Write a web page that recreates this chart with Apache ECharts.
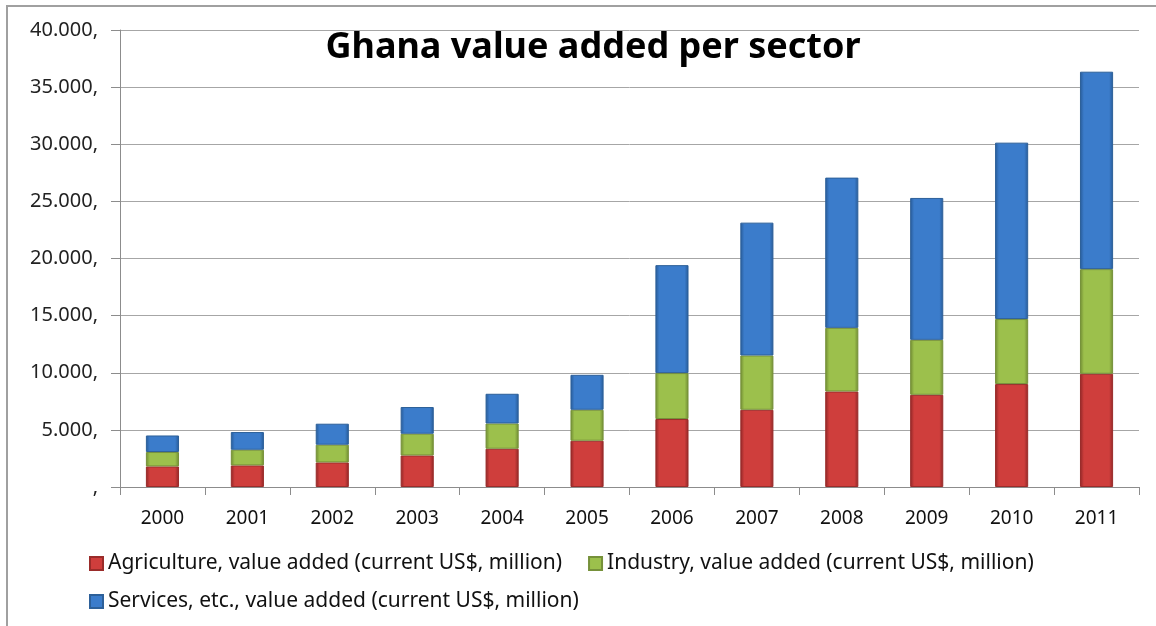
<!DOCTYPE html>
<html>
<head>
<meta charset="utf-8">
<script src="https://cdn.jsdelivr.net/npm/echarts@6/dist/echarts.min.js"></script>
<style>
    html, body { margin: 0; padding: 0; background: #fff; }
    #chart { width: 1156px; height: 626px; }
    .frame {
        position: absolute; left: 6px; top: 5px; width: 1150px; height: 621px;
        border-top: 2px solid #a0a0a0; border-left: 2px solid #a0a0a0;
        pointer-events: none;
    }
</style>
</head>
<body>
<div id="chart"></div>
<div class="frame"></div>
<script>
// years on the x axis
const years = ['2000', '2001', '2002', '2003', '2004', '2005', '2006', '2007', '2008', '2009', '2010', '2011'];
// value added, current US$ million
const agriculture = [1800, 1890, 2150, 2760, 3350, 4050, 5950, 6760, 8360, 8070, 9010, 9910];
const industry = [1260, 1370, 1550, 1900, 2210, 2710, 4020, 4750, 5570, 4810, 5690, 9160];
const services = [1450, 1550, 1840, 2340, 2600, 3060, 9450, 11630, 13150, 12420, 15440, 17280];
const seriesNames = [
    'Agriculture, value added (current US$, million)',
    'Industry, value added (current US$, million)',
    'Services, etc., value added (current US$, million)'
];

const font = '"Noto Sans", "Open Sans", sans-serif';

// bevel-ish look: dark edges, light middle
function bevel(edge, mid) {
    return {
        type: 'linear', x: 0, y: 0, x2: 1, y2: 0,
        colorStops: [
            { offset: 0, color: edge },
            { offset: 0.12, color: mid },
            { offset: 0.88, color: mid },
            { offset: 1, color: edge }
        ]
    };
}

const styles = [
    { color: bevel('#8e2626', '#cf3e3c'), borderColor: '#9a2c2a' },
    { color: bevel('#6f8a32', '#9cc04c'), borderColor: '#76913a' },
    { color: bevel('#275a96', '#3b7ccb'), borderColor: '#2d6099' }
];
const legendColors = ['#c0392f', '#8db042', '#3573c0'];

let myChart = echarts.init(document.getElementById('chart'));
myChart.setOption({
    animation: false,
    title: {
        text: 'Ghana value added per sector',
        left: 588,
        top: 25,
        textAlign: 'center',
        textStyle: { fontFamily: font, fontWeight: 'bold', fontSize: 36, color: '#000' }
    },
    legend: [
        {
            data: seriesNames.slice(0, 2),
            left: 84, top: 548,
            icon: 'rect', itemWidth: 13, itemHeight: 13, itemGap: 26,
            textStyle: { fontFamily: font, fontSize: 21, color: '#111' }
        },
        {
            data: seriesNames.slice(2),
            left: 84, top: 586,
            icon: 'rect', itemWidth: 13, itemHeight: 13,
            textStyle: { fontFamily: font, fontSize: 21, color: '#111' }
        }
    ],
    grid: { left: 120, right: 17, top: 30, bottom: 139, containLabel: false },
    xAxis: {
        type: 'category',
        data: years,
        axisLine: { lineStyle: { color: '#8c8c8c', width: 1 } },
        axisTick: { show: true, length: 8, lineStyle: { color: '#8c8c8c' } },
        axisLabel: { fontFamily: font, fontSize: 19, color: '#111', margin: 22 }
    },
    yAxis: {
        type: 'value',
        min: 0, max: 40000, interval: 5000,
        axisLine: { show: true, lineStyle: { color: '#8c8c8c', width: 1 } },
        axisTick: { show: true, length: 9, lineStyle: { color: '#8c8c8c' } },
        splitLine: { lineStyle: { color: '#a6a6a6', width: 1 } },
        axisLabel: {
            fontFamily: font, fontSize: 20, color: '#222', margin: 22,
            formatter: function (v) { return v === 0 ? ',' : (v / 1000).toFixed(3) + ','; }
        }
    },
    series: [agriculture, industry, services].map(function (vals, i) {
        return {
            name: seriesNames[i],
            type: 'bar',
            stack: 'total',
            barWidth: '39%',
            data: vals,
            color: legendColors[i],
            itemStyle: { color: styles[i].color, borderColor: styles[i].borderColor, borderWidth: 1 }
        };
    })
});
</script>
</body>
</html>
